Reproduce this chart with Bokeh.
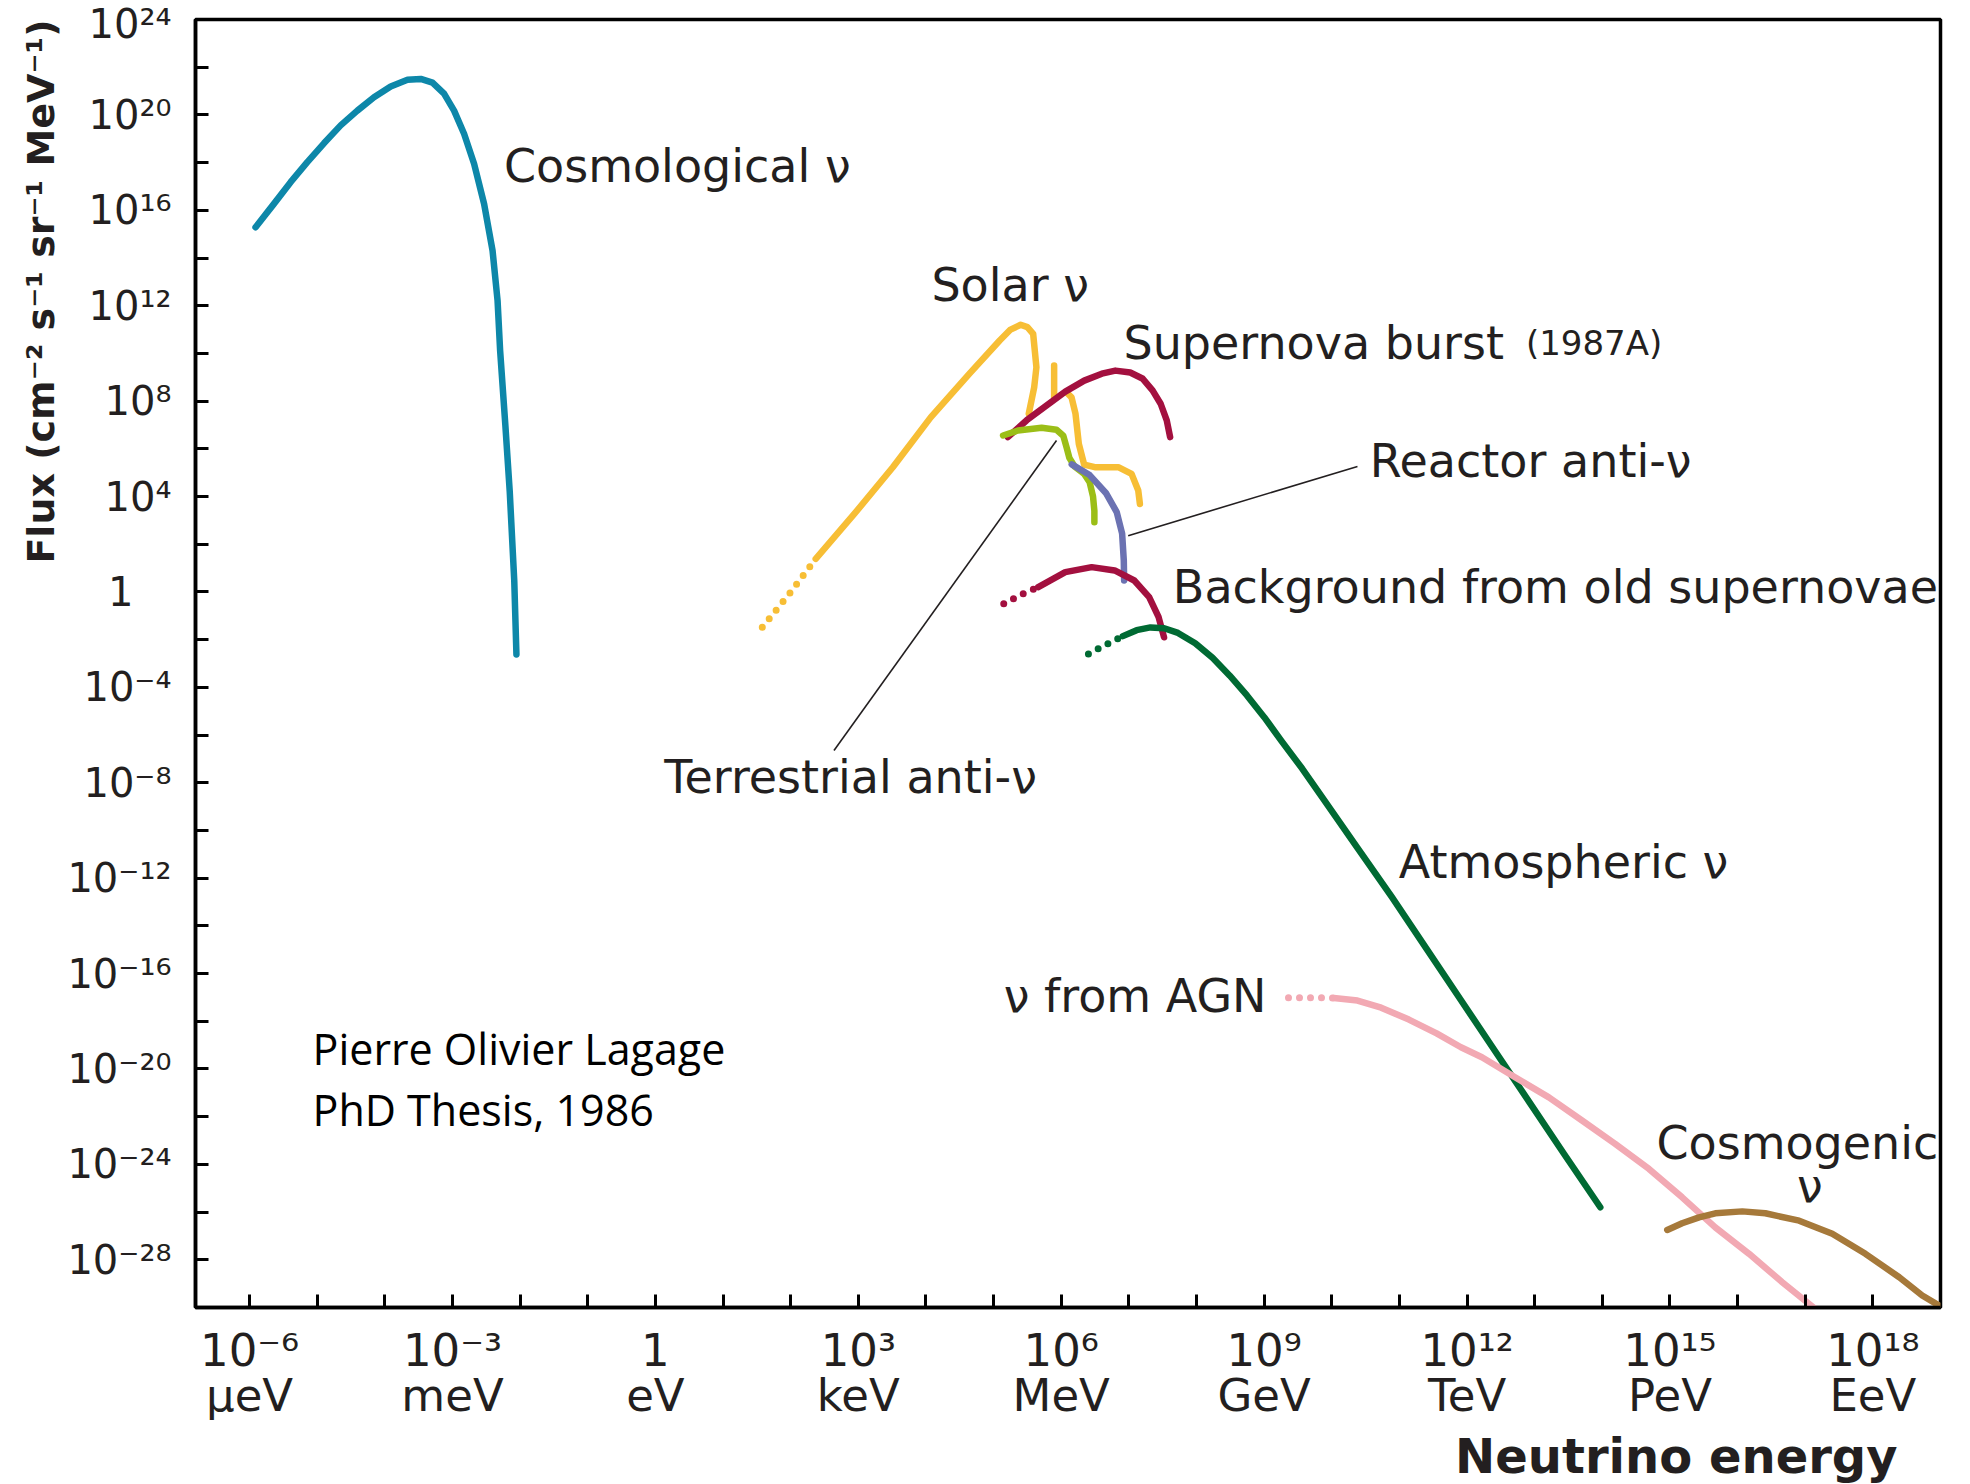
import numpy as np
from bokeh.plotting import figure
from bokeh.models import FixedTicker, Label, Title
from bokeh.embed import file_html
from bokeh.resources import INLINE

# ---------------- data: log10(E / eV) and log10(flux) ----------------
cosmo_logE = [-5.912, -5.641, -5.394, -5.147, -4.901, -4.654, -4.407, -4.161, -3.914, -3.666, -3.470, -3.296,
              -3.125, -2.977, -2.829, -2.681, -2.533, -2.408, -2.334, -2.296, -2.219, -2.154, -2.087, -2.055]
cosmo_logF = [15.29, 16.27, 17.18, 18.02, 18.81, 19.56, 20.18, 20.74, 21.19, 21.47, 21.51, 21.35,
              20.89, 20.18, 19.21, 17.95, 16.27, 14.31, 12.22, 10.12, 7.00, 4.21, 0.46, -2.62]

solar_dot_logE = [1.58, 1.98, 2.37]
solar_dot_logF = [-1.48, -0.08, 1.39]
solar_pp_logE = [2.37, 2.94, 3.51, 4.07, 4.64, 5.09, 5.25, 5.40, 5.50, 5.585, 5.633, 5.60, 5.52]
solar_pp_logF = [1.39, 3.27, 5.23, 7.32, 9.14, 10.54, 11.00, 11.20, 11.10, 10.82, 9.42, 8.58, 7.47]
solar_be_logE = [5.895, 5.895]
solar_be_logF = [9.49, 8.16]
solar_b8_logE = [6.077, 6.152, 6.211, 6.260, 6.339, 6.496, 6.843, 7.040, 7.139, 7.163]
solar_b8_logF = [8.37, 8.16, 7.47, 6.21, 5.34, 5.23, 5.23, 4.95, 4.25, 3.69]

sn_logE = [5.21, 5.49, 5.75, 6.06, 6.34, 6.60, 6.80, 7.02, 7.20, 7.35, 7.47, 7.56, 7.61]
sn_logF = [6.49, 7.20, 7.75, 8.40, 8.86, 9.15, 9.28, 9.20, 8.95, 8.45, 7.89, 7.19, 6.49]

terr_logE = [5.14, 5.36, 5.71, 5.93, 6.03, 6.08, 6.12, 6.20, 6.34, 6.42, 6.47, 6.49, 6.49]
terr_logF = [6.56, 6.77, 6.88, 6.80, 6.55, 6.05, 5.62, 5.25, 4.95, 4.60, 4.00, 3.40, 2.92]

reactor_logE = [6.155, 6.42, 6.66, 6.82, 6.90, 6.925, 6.93]
reactor_logF = [5.35, 4.90, 4.15, 3.35, 2.45, 1.32, 0.48]

bg_dot_logE = [5.15, 5.43, 5.66]
bg_dot_logF = [-0.50, -0.08, 0.20]
bg_logE = [5.66, 6.06, 6.45, 6.79, 7.08, 7.30, 7.44, 7.52]
bg_logF = [0.20, 0.83, 1.04, 0.90, 0.48, -0.22, -1.06, -1.90]

atm_dot_logE = [6.402, 6.656, 6.911]
atm_dot_logF = [-2.60, -2.22, -1.853]
atm_logE = [6.911, 7.115, 7.319, 7.522, 7.726, 7.981, 8.237, 8.492, 8.746, 9.001, 9.255, 9.562, 9.867,
            10.377, 10.887, 11.397, 11.906, 12.416, 12.926, 13.435, 13.970]
atm_logF = [-1.853, -1.602, -1.488, -1.522, -1.719, -2.151, -2.763, -3.509, -4.340, -5.250, -6.243, -7.405, -8.646,
            -10.717, -12.788, -14.943, -17.099, -19.254, -21.409, -23.564, -25.799]

agn_dot_logE = [9.36, 9.70, 10.03]
agn_dot_logF = [-17.01, -17.01, -17.02]
agn_logE = [10.03, 10.38, 10.73, 11.14, 11.55, 11.91, 12.22, 12.71, 13.21, 13.70, 14.19, 14.69, 15.18,
            15.67, 16.17, 16.66, 17.15]
agn_logF = [-17.02, -17.13, -17.43, -17.93, -18.51, -19.09, -19.51, -20.35, -21.19, -22.16, -23.14, -24.19, -25.38,
            -26.64, -27.75, -28.94, -30.06]

cosmogenic_logE = [14.96, 15.18, 15.43, 15.67, 16.07, 16.41, 16.91, 17.40, 17.89, 18.39, 18.73, 18.98]
cosmogenic_logF = [-26.75, -26.47, -26.22, -26.05, -25.97, -26.05, -26.36, -26.91, -27.75, -28.73, -29.50, -29.92]

# tick labels
x_tick_exps = list(range(-6, 19))
x_label_exps = [-6, -3, 0, 3, 6, 9, 12, 15, 18]
x_unit_names = ["μeV", "meV", "eV", "keV", "MeV", "GeV", "TeV", "PeV", "EeV"]
y_tick_exps = list(range(-28, 25, 2))
y_label_exps = list(range(-28, 25, 4))

# text labels: (text, logE, logF, size, align)
curve_labels = [
    ("Cosmological ν", -2.24, 17.84, "46px", "left"),
    ("Solar ν", 4.08, 12.85, "46px", "left"),
    ("Supernova burst", 6.92, 10.42, "46px", "left"),
    ("(1987A)", 12.87, 10.42, "34px", "left"),
    ("Reactor anti-ν", 10.56, 5.51, "46px", "left"),
    ("Background from old supernovae", 7.65, 0.20, "46px", "left"),
    ("Terrestrial anti-ν", 0.13, -7.77, "46px", "left"),
    ("Atmospheric ν", 10.99, -11.33, "46px", "left"),
    ("ν from AGN", 5.15, -16.96, "46px", "left"),
    ("Cosmogenic", 14.80, -23.09, "46px", "left"),
    ("ν", 17.07, -24.89, "46px", "center"),
]
credit_lines = [("Pierre Olivier Lagage", -5.07, -19.15), ("PhD Thesis, 1986", -5.07, -21.69)]
leader_terr_logE = [5.93, 2.64]
leader_terr_logF = [6.35, -6.65]
leader_reac_logE = [6.99, 10.38]
leader_reac_logF = [2.36, 5.26]

TEXT = "#231F20"
SUP = str.maketrans("0123456789-", "⁰¹²³⁴⁵⁶⁷⁸⁹⁻")


def pow_label(k):
    return "1" if k == 0 else "10" + str(k).translate(SUP)


def pw(v):
    return [10.0 ** a for a in v]


p = figure(x_axis_type="log", y_axis_type="log",
           x_range=(10.0 ** -6.8, 10.0 ** 19), y_range=(10.0 ** -30, 10.0 ** 24),
           frame_width=1745, frame_height=1288,
           min_border_left=195, min_border_top=19, min_border_right=15, min_border_bottom=175,
           title=None, output_backend="svg", toolbar_location=None)
p.xgrid.visible = False
p.ygrid.visible = False
p.outline_line_color = "black"
p.outline_line_width = 3.5
p.outline_line_alpha = 1.0
p.background_fill_color = "white"
p.border_fill_color = "white"

# x axis
x_ticks = [10.0 ** k for k in x_tick_exps]
p.xaxis.ticker = FixedTicker(ticks=x_ticks)
ov = {}
for k, t in zip(x_tick_exps, x_ticks):
    if k in x_label_exps:
        ov[t] = pow_label(k) + "\n" + x_unit_names[x_label_exps.index(k)]
    else:
        ov[t] = ""
p.xaxis.major_label_overrides = ov
# y axis
y_ticks = [10.0 ** k for k in y_tick_exps]
p.yaxis.ticker = FixedTicker(ticks=y_ticks)
ovy = {}
for k, t in zip(y_tick_exps, y_ticks):
    if k in y_label_exps:
        ovy[t] = "1\u2007\u00a0" if k == 0 else pow_label(k)
    else:
        ovy[t] = ""
p.yaxis.major_label_overrides = ovy

for ax in (p.xaxis[0], p.yaxis[0]):
    ax.axis_line_width = 3.5
    ax.axis_line_color = "black"
    ax.major_tick_in = 13
    ax.major_tick_out = 0
    ax.major_tick_line_width = 3
    ax.major_tick_line_color = "black"
    ax.minor_tick_line_color = None
    ax.major_label_text_font = "DejaVu Sans"
    ax.major_label_text_color = TEXT
p.xaxis.major_label_text_font_size = "45px"
p.xaxis.major_label_text_line_height = 0.85
p.xaxis.major_label_standoff = 16
p.yaxis.major_label_text_font_size = "40px"
p.yaxis.major_label_standoff = 24

# axis titles
p.add_layout(Title(text="Flux (cm⁻² s⁻¹ sr⁻¹ MeV⁻¹)", align="right", text_font="DejaVu Sans",
                   text_font_style="bold", text_font_size="38px", text_color=TEXT, standoff=4), "left")
p.add_layout(Title(text="Neutrino energy", align="right", offset=43, text_font="DejaVu Sans",
                   text_font_style="bold", text_font_size="48px", text_color=TEXT, standoff=2), "below")

# curves
solid = [
    (cosmo_logE, cosmo_logF, "#0D87A9"),
    (solar_pp_logE, solar_pp_logF, "#F7BE35"),
    (solar_be_logE, solar_be_logF, "#F7BE35"),
    (solar_b8_logE, solar_b8_logF, "#F7BE35"),
    (sn_logE, sn_logF, "#A3103F"),
    (terr_logE, terr_logF, "#9BBE17"),
    (reactor_logE, reactor_logF, "#6B72B2"),
    (bg_logE, bg_logF, "#A3103F"),
    (atm_logE, atm_logF, "#006A33"),
    (agn_logE, agn_logF, "#F2A9B3"),
    (cosmogenic_logE, cosmogenic_logF, "#A6793A"),
]
dotted = [
    (solar_dot_logE, solar_dot_logF, "#F7BE35"),
    (bg_dot_logE, bg_dot_logF, "#A3103F"),
    (atm_dot_logE, atm_dot_logF, "#006A33"),
    (agn_dot_logE, agn_dot_logF, "#F2A9B3"),
]
for xs, ys, c in dotted:
    p.line(pw(xs), pw(ys), line_color=c, line_width=7, line_dash="0 11", line_cap="round")
for xs, ys, c in solid:
    p.line(pw(xs), pw(ys), line_color=c, line_width=6.5, line_cap="round", line_join="round")

# leader lines
p.line(pw(leader_terr_logE), pw(leader_terr_logF), line_color=TEXT, line_width=1.6)
p.line(pw(leader_reac_logE), pw(leader_reac_logF), line_color=TEXT, line_width=1.6)

for txt, lx, ly, size, align in curve_labels:
    p.add_layout(Label(x=10.0 ** lx, y=10.0 ** ly, text=txt, text_font="DejaVu Sans",
                       text_font_size=size, text_color=TEXT, text_align=align,
                       text_baseline="alphabetic"))
for txt, lx, ly in credit_lines:
    p.add_layout(Label(x=10.0 ** lx, y=10.0 ** ly, text=txt, text_font="Open Sans",
                       text_font_size="43px", text_color="black", text_align="left",
                       text_baseline="alphabetic"))

open("out.html", "w").write(file_html(p, INLINE))
